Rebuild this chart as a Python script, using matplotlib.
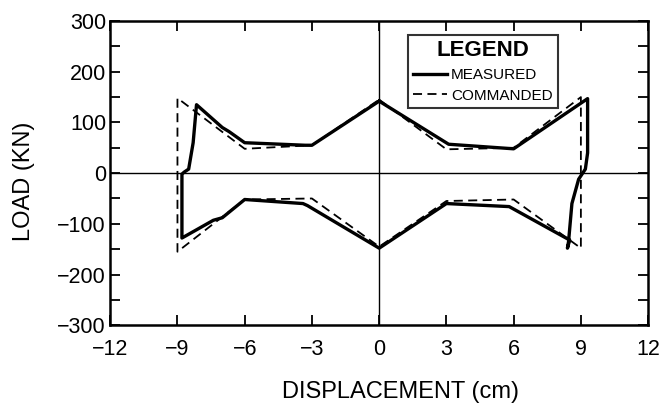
import matplotlib
matplotlib.use("Agg")
import matplotlib.pyplot as plt
from matplotlib.ticker import MultipleLocator

plt.rcParams['font.family'] = ['Liberation Sans', 'DejaVu Sans']

# measured hysteresis loop (cm, kN)
meas_x = [0, 3.1, 6.0, 9.3, 9.3, 9.2, 8.9, 8.6, 8.45, 8.4, 8.5, 5.8, 3.0, 0,
          -3.2, -3.4, -6.0, -7.0, -7.4, -8.8, -8.8, -8.7, -8.5, -8.3, -8.15,
          -7.0, -6.7, -6.0, -3.3, -3.0, 0]
meas_y = [142, 57, 48, 147, 40, 8, -12, -60, -135, -148, -132, -66, -60, -148,
          -64, -60, -52, -88, -93, -128, -2, 2, 8, 60, 135,
          90, 82, 60, 55, 55, 142]

# commanded loop
cmd_x = [0, 3, 6, 9, 9, 6, 3, 0, -3, -6, -9, -9, -6, -3, 0]
cmd_y = [145, 47, 50, 150, -148, -52, -55, -145, -50, -52, -155, 148, 48, 55, 145]

fig = plt.figure(figsize=(6.6, 4.05), dpi=100)
ax = fig.add_axes([0.167, 0.197, 0.815, 0.751])

ax.axhline(0, color="black", lw=1.0)
ax.axvline(0, color="black", lw=1.0)

ax.plot(meas_x, meas_y, color="black", lw=2.4, solid_joinstyle="round",
        label="MEASURED")
ax.plot(cmd_x, cmd_y, color="black", lw=1.3, ls=(0, (5, 3)),
        label="COMMANDED")

ax.set_xlim(-12, 12)
ax.set_ylim(-300, 300)
ax.xaxis.set_major_locator(MultipleLocator(3))
ax.yaxis.set_major_locator(MultipleLocator(100))
ax.yaxis.set_minor_locator(MultipleLocator(50))
ax.tick_params(which="both", direction="in", top=True, right=True,
               width=1.3, labelsize=15.5)
ax.tick_params(which="major", length=7)
ax.tick_params(which="minor", length=7)
ax.tick_params(axis="x", pad=10)
ax.tick_params(axis="y", pad=3)
for s in ax.spines.values():
    s.set_linewidth(1.8)

ax.set_xlabel("DISPLACEMENT (cm)", fontsize=17)
ax.xaxis.set_label_coords(0.54, -0.185)
ax.set_ylabel("LOAD (KN)", fontsize=17)
ax.yaxis.set_label_coords(-0.14, 0.474)

leg = ax.legend(title="LEGEND", loc="upper left",
                bbox_to_anchor=(0.553, 0.955), frameon=True, fancybox=False,
                edgecolor="black", fontsize=11, title_fontsize=16,
                handlelength=2.2, handletextpad=0.3, borderpad=0.35,
                labelspacing=0.45, borderaxespad=0)
leg.get_frame().set_linewidth(1.5)
leg.get_title().set_fontweight("bold")

fig.savefig("out.png", dpi=100, facecolor="white")
